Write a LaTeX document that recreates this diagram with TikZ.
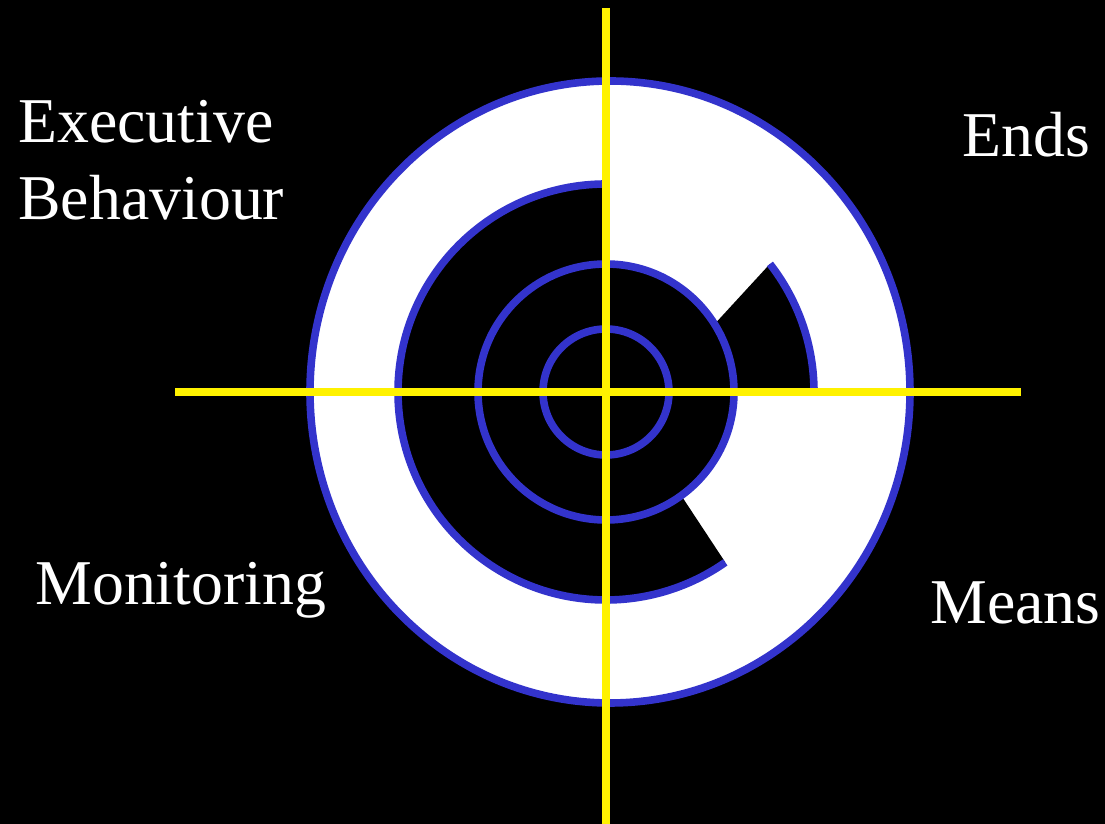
\documentclass[tikz,border=0pt]{standalone}
\usepackage{fontspec}
\setmainfont{Liberation Serif}
\definecolor{ringblue}{RGB}{51,51,204}

\begin{document}
\begin{tikzpicture}[x=0.5pt, y=0.5pt,
    ring/.style={draw=ringblue, line width=3.8pt},
    axis/.style={draw=yellow, line width=3.8pt},
    lbl/.style={text=white, inner sep=0pt, anchor=base west, font=\fontsize{31.9}{38}\selectfont}]
    % Fond
    \useasboundingbox (0,0) rectangle (1105,824);
    \fill[black] (0,0) rectangle (1105,824);

    \begin{scope}[shift={(606,432)}]
        \coordinate (O) at (0,0);
        % Anneau extérieur
        \filldraw[fill=white, ring] (4,0) ellipse [x radius=300, y radius=311];

        % Zone noire
        \fill[black] (90:208) arc[start angle=90, end angle=305, radius=208]
            -- (306:128) arc[start angle=306, end angle=360, radius=128]
            -- (0:208) arc[start angle=0, end angle=38, radius=208]
            -- (32:128) arc[start angle=32, end angle=90, radius=128] -- cycle;

        % Cercles bleus
        \draw[ring] (90:208) arc[start angle=90, end angle=305, radius=208];
        \draw[ring] (0:208) arc[start angle=0, end angle=38, radius=208];
        \draw[ring] (O) circle (128);
        \draw[ring] (O) circle (63);

        % Axes
        \coordinate (hl) at (-431,0);
        \coordinate (hr) at (415,0);
        \coordinate (vt) at (0,384);
        \coordinate (vb) at (0,-432);
        \draw[axis] (hl) -- (hr);
        \draw[axis] (vt) -- (vb);
    \end{scope}

    % Textes
    \node[lbl] (exec) at (18,681) {Executive};
    \node[lbl] (behav) at (18,604) {Behaviour};
    \node[lbl] (ends) at (962,667) {Ends};
    \node[lbl] (monit) at (35,219) {Monitoring};
    \node[lbl] (means) at (930,200) {Means};
\end{tikzpicture}
\end{document}
